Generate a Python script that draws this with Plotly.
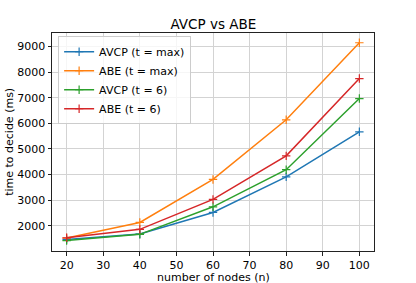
import plotly.graph_objects as go

nodes = [20, 40, 60, 80, 100]
avcp_max = [1460, 1675, 2520, 3910, 5670]
abe_max = [1520, 2130, 3810, 6140, 9150]
avcp_6 = [1420, 1665, 2740, 4190, 6970]
abe_6 = [1530, 1860, 3030, 4730, 7750]

series = [
    ("AVCP (t = max)", avcp_max, "#1f77b4"),
    ("ABE (t = max)", abe_max, "#ff7f0e"),
    ("AVCP (t = 6)", avcp_6, "#2ca02c"),
    ("ABE (t = 6)", abe_6, "#d62728"),
]

font = "DejaVu Sans"
fig = go.Figure()
for name, ys, c in series:
    fig.add_trace(go.Scatter(
        x=nodes, y=ys, name=name, mode="lines+markers",
        line=dict(color=c, width=1.5),
        marker=dict(symbol="cross-thin", size=6, line=dict(color=c, width=1.2)),
    ))

axis_common = dict(
    showline=True, linecolor="#222222", linewidth=1, mirror=True,
    ticks="outside", ticklen=3.5, tickcolor="#222222", tickwidth=1,
    showgrid=True, gridcolor="#d3d3d3", gridwidth=1, zeroline=False,
    tickfont=dict(family=font, size=11, color="black"),
    automargin=False,
)

fig.update_layout(
    width=416, height=283,
    margin=dict(l=52, r=42, t=33, b=32),
    paper_bgcolor="white", plot_bgcolor="white",
    title=dict(text="AVCP vs ABE", x=0.513, xanchor="center", y=0.914, yanchor="middle",
               font=dict(family=font, size=13.5, color="black"), automargin=False),
    xaxis=dict(range=[16, 104], tickvals=[20, 30, 40, 50, 60, 70, 80, 90, 100],
               **axis_common),
    yaxis=dict(range=[1014, 9530], tickvals=[2000, 3000, 4000, 5000, 6000, 7000, 8000, 9000],
               **axis_common),
    legend=dict(x=0.019, y=0.985, xanchor="left", yanchor="top",
                bgcolor="rgba(255,255,255,0.8)", bordercolor="#cccccc", borderwidth=1,
                font=dict(family=font, size=11, color="black"),
                tracegroupgap=0, itemwidth=30),
    showlegend=True,
    hovermode=False,
    annotations=[
        dict(text="number of nodes (n)", xref="paper", yref="paper", x=0.5, y=-0.123,
             xanchor="center", yanchor="middle", showarrow=False,
             font=dict(family=font, size=11, color="black")),
        dict(text="time to decide (ms)", xref="paper", yref="paper", x=-0.134, y=0.5,
             xanchor="center", yanchor="middle", textangle=-90, showarrow=False,
             font=dict(family=font, size=11, color="black")),
    ],
)

fig.write_html("out.html", config={"displayModeBar": False},
               post_script="document.body.style.margin='0px';")
